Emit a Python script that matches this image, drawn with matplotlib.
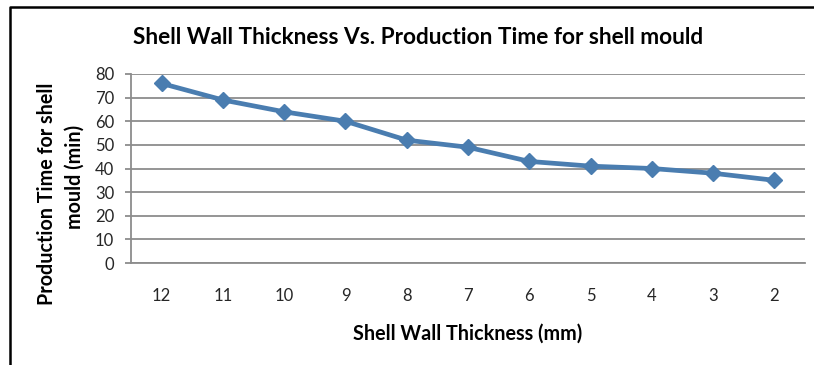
import matplotlib.pyplot as plt
from matplotlib.lines import Line2D

# Shell wall thickness (mm) and production time (min)
thickness_labels = ["12", "11", "10", "9", "8", "7", "6", "5", "4", "3", "2"]
production_time = [76, 69, 64, 60, 52, 49, 43, 41, 40, 38, 35]
y_ticks = [0, 10, 20, 30, 40, 50, 60, 70, 80]

plt.rcParams["font.family"] = ["Lato", "DejaVu Sans"]

W, H = 814, 365
fig = plt.figure(figsize=(W / 100, H / 100), dpi=100)

# plot area placed in pixel units
left, right, top, bottom = 131, 805, 74, 263
ax = fig.add_axes([left / W, 1 - bottom / H, (right - left) / W, (bottom - top) / H])

x = list(range(len(thickness_labels)))
ax.plot(x, production_time, "-", color="#4A7DB0", linewidth=3.4,
        marker="D", markersize=8.5, markerfacecolor="#4A7DB0",
        markeredgecolor="#4A7DB0", solid_joinstyle="round")

ax.set_xlim(-0.5, len(thickness_labels) - 0.5)
ax.set_ylim(0, 80)
ax.set_xticks(x)
ax.set_xticklabels(thickness_labels)
ax.set_yticks(y_ticks)

grid_color = "#8C8C8C"
ax.yaxis.grid(True, color=grid_color, linewidth=1.3)
ax.set_axisbelow(True)
for side in ("top", "right"):
    ax.spines[side].set_visible(False)
for side in ("left", "bottom"):
    ax.spines[side].set_color(grid_color)
    ax.spines[side].set_linewidth(1.3)

ax.tick_params(axis="x", length=0, pad=18, labelsize=12, labelcolor="#262626")
ax.tick_params(axis="y", length=4, width=1.3, color=grid_color, pad=8,
               labelsize=12, labelcolor="#262626")

ax.set_xlabel("Shell Wall Thickness (mm)", fontsize=14.2, fontweight="bold", labelpad=14)

# y label drawn as two lines, each centred on its own
fig.text(47 / W, 1 - 194 / H, "Production Time for shell", rotation=90,
         ha="center", va="center", fontsize=14.2, fontweight="bold")
fig.text(75 / W, 1 - 177 / H, "mould (min)", rotation=90,
         ha="center", va="center", fontsize=14.2, fontweight="bold")

fig.text(418 / W, 1 - 38 / H, "Shell Wall Thickness Vs. Production Time for shell mould",
         ha="center", va="center", fontsize=16.3, fontweight="bold")

# outer frame (left and top edges)
fig.add_artist(Line2D([10 / W, 10 / W, 1.0], [0.0, 1 - 7 / H, 1 - 7 / H],
                      color="black", linewidth=1.8, transform=fig.transFigure))

fig.savefig("out.png", dpi=100)
